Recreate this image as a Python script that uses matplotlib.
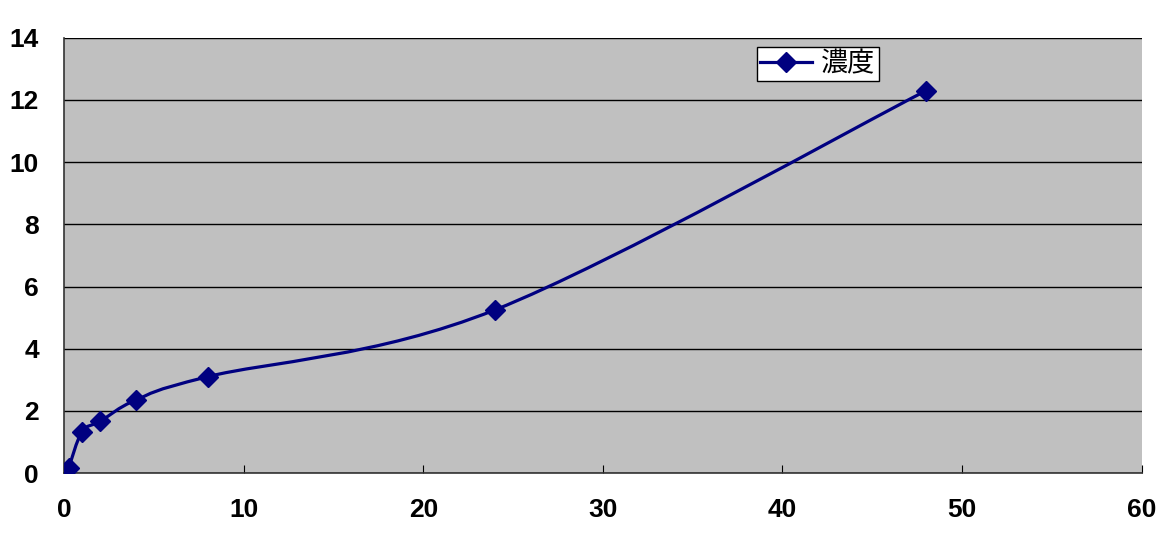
import numpy as np
import matplotlib.pyplot as plt
from matplotlib.path import Path
from matplotlib.patches import PathPatch

plt.rcParams['font.family'] = ['Noto Sans CJK JP', 'DejaVu Sans']

# time (h) and concentration
t = [0.25, 1, 2, 4, 8, 24, 48]
conc = [0.15, 1.33, 1.66, 2.35, 3.1, 5.25, 12.3]
label = '濃度'

fig = plt.figure(figsize=(11.65, 5.4), dpi=100)
ax = fig.add_axes([0.055, 0.124, 0.925, 0.806])
ax.set_facecolor('#C0C0C0')

# Excel style smoothed line: cubic bezier through the points
pts = np.column_stack([t, conc])
verts = [pts[0]]
codes = [Path.MOVETO]
for i in range(len(pts) - 1):
    p0 = pts[i - 1] if i > 0 else pts[i]
    p1 = pts[i]
    p2 = pts[i + 1]
    p3 = pts[i + 2] if i + 2 < len(pts) else pts[i + 1]
    c1 = p1 + (p2 - p0) / 6
    c2 = p2 - (p3 - p1) / 6
    verts += [c1, c2, p2]
    codes += [Path.CURVE4] * 3
ax.add_patch(PathPatch(Path(verts, codes), fill=False, edgecolor='#000080', lw=2.3, zorder=3))
ax.plot(t, conc, ls='none', marker='D', ms=10, color='#000080', zorder=4)
ax.plot([], [], color='#000080', lw=2.3, marker='D', ms=10, label=label)

ax.set_xlim(0, 60)
ax.set_ylim(0, 14)
ax.set_xticks(range(0, 61, 10))
ax.set_yticks(range(0, 15, 2))
ax.yaxis.grid(True, color='black', lw=1)
ax.set_axisbelow(True)
for s in ['top', 'right']:
    ax.spines[s].set_visible(False)
for s in ['left', 'bottom']:
    ax.spines[s].set_color('#333333')
    ax.spines[s].set_linewidth(1.2)
ax.tick_params(axis='x', direction='in', length=6, pad=18, labelsize=19)
ax.tick_params(axis='y', direction='in', length=0, pad=18, labelsize=19)
for lab in ax.get_xticklabels() + ax.get_yticklabels():
    lab.set_fontweight('bold')
    lab.set_family(['Liberation Sans', 'DejaVu Sans'])

leg = ax.legend(loc='upper left', bbox_to_anchor=(0.643, 0.978), fontsize=19.5,
                frameon=True, fancybox=False, framealpha=1, handlelength=1.9,
                borderpad=0.12, handletextpad=0.35, borderaxespad=0)
leg.get_frame().set_edgecolor('black')
leg.get_frame().set_facecolor('white')
leg.get_frame().set_linewidth(1)

fig.savefig('out.png')
